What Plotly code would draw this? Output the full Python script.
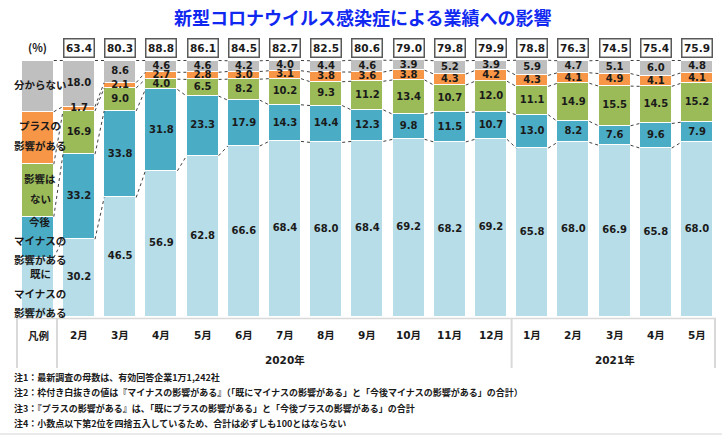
import plotly.graph_objects as go

# ---------------- data ----------------
months = ["2月", "3月", "4月", "5月", "6月", "7月", "8月", "9月", "10月", "11月", "12月",
          "1月", "2月", "3月", "4月", "5月"]
years = ["2020年", "2021年"]
year_counts = [11, 5]

already_minus = [30.2, 46.5, 56.9, 62.8, 66.6, 68.4, 68.0, 68.4, 69.2, 68.2, 69.2, 65.8, 68.0, 66.9, 65.8, 68.0]
future_minus = [33.2, 33.8, 31.8, 23.3, 17.9, 14.3, 14.4, 12.3, 9.8, 11.5, 10.7, 13.0, 8.2, 7.6, 9.6, 7.9]
no_impact = [16.9, 9.0, 4.0, 6.5, 8.2, 10.2, 9.3, 11.2, 13.4, 10.7, 12.0, 11.1, 14.9, 15.5, 14.5, 15.2]
plus_impact = [1.7, 2.1, 2.7, 2.8, 3.0, 3.1, 3.8, 3.6, 3.8, 4.3, 4.2, 4.3, 4.1, 4.9, 4.1, 4.1]
unknown = [18.0, 8.6, 4.6, 4.6, 4.2, 4.0, 4.4, 4.6, 3.9, 5.2, 3.9, 5.9, 4.7, 5.1, 6.0, 4.8]
minus_total = [63.4, 80.3, 88.8, 86.1, 84.5, 82.7, 82.5, 80.6, 79.0, 79.8, 79.9, 78.8, 76.3, 74.5, 75.4, 75.9]

series_names = ["既にマイナスの影響がある", "今後マイナスの影響がある", "影響はない", "プラスの影響がある", "分からない"]
series_values = [already_minus, future_minus, no_impact, plus_impact, unknown]
series_colors = ["#b7dde8", "#4bacc6", "#9bbb59", "#f79646", "#bfbfbf"]

# legend column (凡例) segment shares, bottom to top
legend_segments = [23.0, 16.0, 20.5, 20.5, 20.0]
legend_lines = [
    ["既に", "マイナスの", "影響がある"],
    ["今後", "マイナスの", "影響がある"],
    ["影響は", "ない"],
    ["プラスの", "影響がある"],
    ["分からない"],
]

title = "新型コロナウイルス感染症による業績への影響"
notes = [
    "注1：最新調査の母数は、有効回答企業1万1,242社",
    "注2：枠付き白抜きの値は『マイナスの影響がある』（「既にマイナスの影響がある」と「今後マイナスの影響がある」の合計）",
    "注3：『プラスの影響がある』は、「既にプラスの影響がある」と「今後プラスの影響がある」の合計",
    "注4：小数点以下第2位を四捨五入しているため、合計は必ずしも100とはならない",
]

# ---------------- layout helpers ----------------
W, H = 722, 435
BASE_PX, PPU = 316.5, 2.56      # pixel row of 0 %, pixels per percent
X0_PX, STEP = 79.0, 41.2        # pixel column of first month, pixels per category
BAR_W = 0.777


def ypx(px):
    return (BASE_PX - px) / PPU


def xpx(px):
    return (px - X0_PX) / STEP


CJK = "Noto Sans CJK JP"
NUM = "DejaVu Sans, Noto Sans CJK JP"
DARK = "#1a1a1a"

n = len(months)
xs = list(range(n))
LEG_X = -1

fig = go.Figure()

# legend column bars + data bars
for k in range(5):
    fig.add_trace(go.Bar(
        x=[LEG_X] + xs, y=[legend_segments[k]] + series_values[k],
        width=BAR_W, marker=dict(color=series_colors[k], line=dict(color="white", width=1.5)),
        name=series_names[k], hoverinfo="skip", showlegend=False))

# series lines (dotted connectors)
cols = [legend_segments] + [[series_values[k][i] for k in range(5)] for i in range(n)]
cum = []
for c in cols:
    acc, row = 0.0, []
    for v in c:
        acc += v
        row.append(acc)
    cum.append(row)
col_x = [LEG_X] + xs
lx, ly = [], []
for j in range(len(cols) - 1):
    for k in range(5):
        lx += [col_x[j] + BAR_W / 2, col_x[j + 1] - BAR_W / 2, None]
        ly += [cum[j][k], cum[j + 1][k], None]
fig.add_trace(go.Scatter(x=lx, y=ly, mode="lines", line=dict(color="#404040", width=1, dash="dot"),
                         hoverinfo="skip", showlegend=False))

# value labels
for k in range(5):
    ty = []
    for i in range(n):
        base = cum[i + 1][k - 1] if k > 0 else 0.0
        ty.append(base + series_values[k][i] / 2)
    fig.add_trace(go.Scatter(
        x=xs, y=ty, mode="text", text=[f"{v:.1f}" for v in series_values[k]],
        textfont=dict(family=NUM, size=10, color=DARK, weight="bold"),
        hoverinfo="skip", showlegend=False))

ann = []
# title
ann.append(dict(x=xpx(362), y=ypx(17), text=title, showarrow=False,
                font=dict(family=CJK, size=18, color="#1028f0", weight="bold")))
# (%)
ann.append(dict(x=LEG_X, y=ypx(47), text="(%)", showarrow=False,
                font=dict(family=CJK, size=11, color=DARK, weight="bold")))
# boxed totals
for i in range(n):
    ann.append(dict(x=i, y=ypx(47.5), text=f"{minus_total[i]:.1f}", showarrow=False,
                    font=dict(family=NUM, size=10.5, color=DARK, weight="bold"),
                    bgcolor="white", bordercolor="#595959", borderwidth=1.5, borderpad=1,
                    width=27, height=15))
# legend labels
legend_px = [[273, 293, 312], [221, 240, 259], [178, 198], [125, 145], [84]]
for k in range(5):
    for line, py in zip(legend_lines[k], legend_px[k]):
        ann.append(dict(x=xpx(40), y=ypx(py), text=line, showarrow=False,
                        font=dict(family=CJK, size=10.5, color=DARK, weight="bold")))
# table
ann.append(dict(x=xpx(38), y=ypx(335), text="凡例", showarrow=False,
                font=dict(family=CJK, size=10.5, color=DARK, weight="bold")))
for i, m in enumerate(months):
    ann.append(dict(x=i, y=ypx(335), text=m, showarrow=False,
                    font=dict(family=NUM, size=10.5, color=DARK, weight="bold")))
start = 0
for yname, cnt in zip(years, year_counts):
    ann.append(dict(x=start + (cnt - 1) / 2, y=ypx(360), text=yname, showarrow=False,
                    font=dict(family=NUM, size=10.5, color=DARK, weight="bold")))
    start += cnt
# notes
for note, py in zip(notes, [377, 392, 408, 423]):
    ann.append(dict(x=xpx(12), y=ypx(py), text=note, showarrow=False, xanchor="left",
                    font=dict(family=CJK, size=9, color=DARK, weight="bold")))

shapes = []
GRID = "#d9d9d9"
shapes.append(dict(type="line", x0=xpx(16), x1=xpx(716), y0=ypx(318.5), y1=ypx(318.5),
                   line=dict(color=GRID, width=1.5)))
sep_x = [xpx(17), xpx(57), (year_counts[0] - 1 + year_counts[0]) / 2, xpx(715)]
for sx in sep_x:
    shapes.append(dict(type="line", x0=sx, x1=sx, y0=ypx(318.5), y1=ypx(368),
                       line=dict(color=GRID, width=2)))
shapes.append(dict(type="line", x0=xpx(0), x1=xpx(722), y0=ypx(434), y1=ypx(434),
                   line=dict(color="#e3e3e3", width=1.5)))

fig.update_layout(
    width=W, height=H, margin=dict(l=0, r=0, t=0, b=0),
    paper_bgcolor="white", plot_bgcolor="white",
    barmode="stack", bargap=0,
    xaxis=dict(range=[xpx(0), xpx(W)], visible=False, fixedrange=True),
    yaxis=dict(range=[ypx(H), ypx(0)], visible=False, fixedrange=True),
    annotations=ann, shapes=shapes, showlegend=False,
)

fig.write_html("out.html")
